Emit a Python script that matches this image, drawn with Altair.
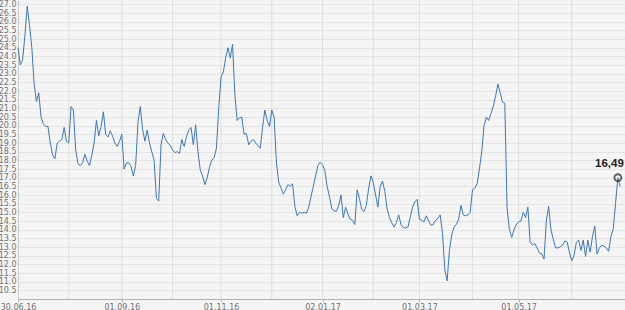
import altair as alt
import pandas as pd

# Daily (weekday) closing values, 30.06.16 onwards
values = [
    24.5, 23.5, 23.8, 25.2, 26.9, 25.8, 24.5, 22.4, 21.4, 21.9,
    20.5, 20.1, 19.95, 19.95, 19.0, 18.3, 18.1, 19.0, 19.1, 19.2,
    19.9, 19.1, 19.0, 21.1, 20.9, 18.6, 17.8, 17.7, 17.85, 18.35,
    17.95, 17.7, 18.3, 19.0, 20.3, 19.4, 19.95, 20.8, 19.5, 19.35,
    19.7, 19.4, 19.0, 18.8, 19.1, 19.5, 17.5, 17.85, 17.85, 17.65,
    17.1, 17.7, 20.2, 21.1, 19.8, 19.1, 19.75, 19.0, 18.5, 18.0,
    15.8, 15.65, 18.9, 19.55, 19.2, 19.0, 18.85, 18.6, 18.45, 18.5,
    18.4, 19.2, 18.8, 19.35, 19.75, 19.9, 18.9, 20.05, 18.5, 17.45,
    17.1, 16.6, 17.0, 17.6, 18.0, 18.15, 18.7, 21.0, 22.8, 23.1,
    23.9, 24.5, 23.9, 24.7, 21.8, 20.3, 20.45, 20.5, 19.5, 19.55,
    18.9, 19.1, 19.2, 19.0, 18.85, 18.7, 19.9, 20.9, 20.3, 19.95,
    20.9, 20.5, 17.9, 16.75, 16.4, 16.05, 16.3, 16.6, 16.5, 16.65,
    15.35, 14.8, 15.0, 14.95, 15.0, 14.95, 15.3, 15.9, 16.5, 17.1,
    17.7, 17.9, 17.75, 17.4, 16.5, 15.9, 15.2, 15.1, 15.05, 15.4,
    16.0, 14.7, 15.3, 14.9, 14.6, 14.55, 14.3, 16.3, 15.8, 15.15,
    15.05, 15.4, 16.4, 17.1, 16.7, 16.0, 15.3, 16.5, 16.8, 16.2,
    15.2, 14.7, 14.4, 14.15, 14.4, 14.85, 14.3, 14.12, 14.1, 14.15,
    14.7, 15.3, 15.6, 15.75, 14.6, 14.55, 14.45, 14.8, 14.5, 14.25,
    14.3, 14.55, 14.65, 14.85, 13.8, 11.7, 11.05, 12.8, 13.7, 14.15,
    14.3, 14.6, 15.4, 14.85, 14.8, 14.85, 15.0, 16.3, 16.4, 16.65,
    17.5, 18.5, 20.0, 20.5, 20.3, 20.7, 21.1, 21.7, 22.4, 21.9,
    21.35, 21.3, 15.2, 14.0, 13.55, 14.0, 14.3, 14.45, 14.5, 15.0,
    14.7, 15.3, 13.25, 13.1, 13.2, 12.95, 12.65, 12.6, 12.3, 14.5,
    15.35, 14.0, 13.45, 12.95, 12.95, 13.0, 13.1, 13.35, 13.3, 12.7,
    12.2, 12.5, 13.25, 13.4, 12.8, 13.4, 12.45, 13.4, 12.7, 13.6,
    14.2, 12.6, 12.95, 13.1, 13.05, 12.95, 12.75, 13.6, 14.05, 15.5,
    17.0, 16.49,
]

# Month-start positions (weekday index) for vertical gridlines
grid_idx = [22, 45, 67, 88, 110, 132, 154, 174, 197, 217, 240]
# Labelled dates
label_idx = [0, 45, 88, 132, 174, 217]
label_txt = ["30.06.16", "01.09.16", "01.11.16", "02.01.17", "01.03.17", "01.05.17"]

# Highlighted point and its label
mark_idx = [260]
mark_val = [17.0]
mark_txt = ["16,49"]

y_ticks = [round(10.5 + 0.5 * k, 1) for k in range(34)]

df = pd.DataFrame({"i": list(range(len(values))), "v": values})
grid_df = pd.DataFrame({"i": grid_idx})
mark_df = pd.DataFrame({"i": mark_idx, "v": mark_val, "t": mark_txt})

expr = "''"
for k, t in reversed(list(zip(label_idx, label_txt))):
    expr = f"datum.value == {k} ? '{t}' : ({expr})"

xscale = alt.Scale(domain=[0, 263.1], nice=False, zero=False)
yscale = alt.Scale(domain=[10, 27.25], nice=False, zero=False)

FONT = "DejaVu Sans"

xaxis = alt.Axis(
    values=label_idx,
    labelExpr=expr,
    grid=False,
    title=None,
    tickSize=3,
    tickColor="#b0b0b0",
    domainColor="#b0b0b0",
    labelFont=FONT,
    labelFontSize=8,
    labelColor="#707070",
    labelPadding=1,
    labelOverlap=False,
    labelFlush=False,
)
yaxis = alt.Axis(
    values=y_ticks,
    format=".1f",
    grid=True,
    gridColor="#e4e4e4",
    ticks=False,
    title=None,
    domainColor="#c8c8c8",
    labelFont=FONT,
    labelFontSize=8,
    labelColor="#707070",
    labelPadding=2,
    labelOverlap=False,
    labelFlush=False,
)

X = alt.X("i:Q", scale=xscale, axis=xaxis)
Y = alt.Y("v:Q", scale=yscale, axis=yaxis)

grid = alt.Chart(grid_df).mark_rule(color="#dedede", strokeWidth=1).encode(x=X)

line = alt.Chart(df).mark_line(color="#3b78b6", strokeWidth=1).encode(x=X, y=Y)

point = alt.Chart(mark_df).mark_point(
    shape="circle", size=48, filled=False, color="#222222", strokeWidth=1.9
).encode(x=X, y=Y)

label = alt.Chart(mark_df).mark_text(
    font="Liberation Sans", fontSize=11.5, fontWeight="bold", color="#222222",
    dx=6, dy=-14, align="right"
).encode(x=X, y=Y, text="t:N")

chart = (
    alt.layer(grid, line, point, label)
    .properties(
        width=607,
        height=299,
        autosize=alt.AutoSizeParams(type="none"),
        padding={"left": 18, "top": 0, "right": 0, "bottom": 11},
        background="#f6f5f6",
    )
    .configure_view(stroke=None)
)

chart.save("out.html", embed_options={"renderer": "svg", "actions": False})
